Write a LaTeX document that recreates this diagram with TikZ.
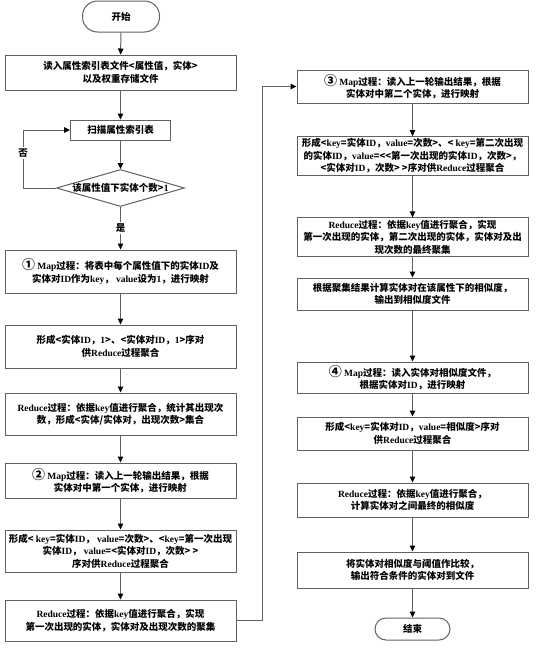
\documentclass[tikz,border=0pt]{standalone}
\usepackage{fontspec}
\usepackage{tikz}
\usetikzlibrary{arrows.meta,shapes.geometric}
\newfontfamily\cjk{Noto Sans CJK SC}
\newfontfamily\enfont{Liberation Serif}
\newcommand\en[1]{{\enfont\bfseries #1}}
\newcommand\circnum[1]{{\fontsize{13}{13}\selectfont #1}}
\definecolor{linegray}{gray}{0.38}
\tikzset{
  flowfig/.style={x=1pt,y=-1pt,>={Triangle[length=6pt,width=5.5pt,color=black]},
    every node/.style={font=\cjk\bfseries\fontsize{9.5}{12.5}\selectfont,align=center}},
  procbox/.style={draw=linegray,line width=1pt,minimum width=231pt,inner xsep=2pt,
    inner ysep=2pt},
  termbox/.style={draw=linegray,line width=1pt,inner sep=0pt},
  testnode/.style={draw=linegray,line width=1pt,diamond,aspect=3.46,inner sep=0pt},
  flow/.style={draw=linegray,line width=1pt,->},
  branch/.style={fill=white,inner sep=1.5pt},
}

\begin{document}
\begin{tikzpicture}[flowfig]
    \useasboundingbox (0,0) rectangle (541,651);

    % left column
    \node[termbox,minimum width=77pt,minimum height=31pt,rounded corners=15pt]
      (start) at (121,16.5) {开始};
    \node[procbox,minimum height=35pt] (read) at (120.5,72.5)
      {读入属性索引表文件<属性值，实体>\\以及权重存储文件};
    \node[procbox,minimum width=100pt,minimum height=20pt] (scan) at (120.5,130)
      {扫描属性索引表};
    \node[testnode] (cond) at (120.5,188) {该属性值下实体个数>\en{1}};
    \node[procbox,minimum height=43pt] (mapone) at (120.5,271.5)
      {\circnum{①} \en{Map}过程：将表中每个属性值下的实体\en{ID}及\\
       实体对\en{ID}作为\en{key}， \en{value}设为\en{1}，进行映射};
    \node[procbox,minimum height=43pt] (pairone) at (120.5,346.5)
      {形成<实体\en{ID}，\en{1}>、<实体对\en{ID}，\en{1}>序对\\
       供\en{Reduce}过程聚合};
    \node[procbox,minimum height=42pt] (redone) at (120.5,414)
      {\en{Reduce}过程：依据\en{key}值进行聚合，统计其出现次\\
       数，形成<实体/实体对，出现次数>集合};
    \node[procbox,minimum height=35pt] (maptwo) at (120.5,480.5)
      {\circnum{②} \en{Map}过程：读入上一轮输出结果，根据\\
       实体对中第一个实体，进行映射};
    \node[procbox,minimum height=42pt] (pairtwo) at (120.5,551)
      {形成< \en{key}=实体\en{ID}， \en{value}=次数>、<\en{key}=第一次出现\\
       实体\en{ID}， \en{value}=<实体对\en{ID}，次数> >\\
       序对供\en{Reduce}过程聚合};
    \node[procbox,minimum height=41pt] (redtwo) at (120.5,620.5)
      {\en{Reduce}过程：依据\en{key}值进行聚合，实现\\
       第一次出现的实体，实体对及出现次数的聚集};

    % right column
    \node[procbox,minimum height=33pt] (mapthree) at (412.5,86.5)
      {\circnum{③} \en{Map}过程：读入上一轮输出结果，根据\\
       实体对中第二个实体，进行映射};
    \node[procbox,minimum height=38pt] (pairthree) at (412.5,156)
      {形成<\en{key}=实体\en{ID}，\en{value}=次数>、< \en{key}=第二次出现\\
       的实体\en{ID}，\en{value}=<<第一次出现的实体\en{ID}，次数>，\\
       <实体对\en{ID}，次数> >序对供\en{Reduce}过程聚合};
    \node[procbox,minimum height=31pt] (redthree) at (412.5,237)
      {\en{Reduce}过程：依据\en{key}值进行聚合，实现\\
       第一次出现的实体，第二次出现的实体，实体对及出\\
       现次数的最终聚集};
    \node[procbox,minimum height=32pt] (sim) at (412.5,294)
      {根据聚集结果计算实体对在该属性下的相似度，\\输出到相似度文件};
    \node[procbox,minimum height=31pt] (mapfour) at (412.5,377.5)
      {\circnum{④} \en{Map}过程：读入实体对相似度文件，\\
       根据实体对\en{ID}，进行映射};
    \node[procbox,minimum height=33pt] (pairfour) at (412.5,433.5)
      {形成<\en{key}=实体对\en{ID}，\en{value}=相似度>序对\\
       供\en{Reduce}过程聚合};
    \node[procbox,minimum height=34pt] (redfour) at (412.5,500)
      {\en{Reduce}过程：依据\en{key}值进行聚合，\\计算实体对之间最终的相似度};
    \node[procbox,minimum height=36pt] (compare) at (412.5,570)
      {将实体对相似度与阈值作比较，\\输出符合条件的实体对到文件};
    \node[termbox,minimum width=75pt,minimum height=22pt,rounded corners=11pt]
      (stop) at (412.5,629) {结束};

    \coordinate (nobend) at (23,188);
    \coordinate (bend) at (262,620.5);

    \draw[flow] (start) -- (read);
    \draw[flow] (read) -- (scan);
    \draw[flow] (scan) -- (cond);
    \draw[flow] (cond) -- node[branch] {是} (mapone);
    \draw[flow] (cond.west) -- (nobend) |- node[branch,pos=0.3] {否} (scan.west);
    \draw[flow] (mapone) -- (pairone);
    \draw[flow] (pairone) -- (redone);
    \draw[flow] (redone) -- (maptwo);
    \draw[flow] (maptwo) -- (pairtwo);
    \draw[flow] (pairtwo) -- (redtwo);
    \draw[flow] (redtwo.east) -- (bend) |- (mapthree.west);
    \draw[flow] (mapthree) -- (pairthree);
    \draw[flow] (pairthree) -- (redthree);
    \draw[flow] (redthree) -- (sim);
    \draw[flow] (sim) -- (mapfour);
    \draw[flow] (mapfour) -- (pairfour);
    \draw[flow] (pairfour) -- (redfour);
    \draw[flow] (redfour) -- (compare);
    \draw[flow] (compare) -- (stop);
  \end{tikzpicture}
\end{document}
